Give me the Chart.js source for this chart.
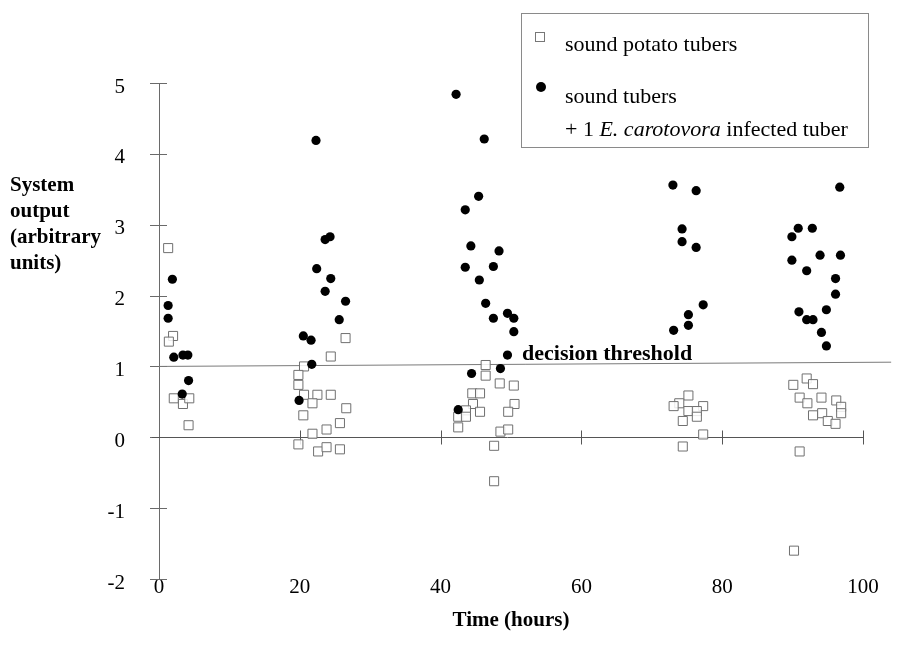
<!DOCTYPE html>
<html>
<head>
<meta charset="utf-8">
<script src="https://cdn.jsdelivr.net/npm/chart.js@4.4.0/dist/chart.umd.min.js"></script>
<style>
  html, body { margin: 0; padding: 0; background: #fff; }
  #wrap { position: relative; width: 905px; height: 657px; overflow: hidden; font-family: "Liberation Serif", "Times New Roman", serif; color: #000; }
  #chart { position: absolute; left: 0; top: 0; }
  .txt { position: absolute; white-space: nowrap; line-height: 26px; }
  #ytitle { left: 10px; top: 171px; font-weight: bold; font-size: 21px; line-height: 26px; }
  #legend { position: absolute; left: 521px; top: 13px; width: 346px; height: 133px; border: 1px solid #8a8a8a; }
  .lsq { position: absolute; width: 8px; height: 8px; border: 1px solid #777; background: #fff; }
  .ldot { position: absolute; width: 10px; height: 10px; border-radius: 50%; background: #000; }
  .ltxt { position: absolute; font-size: 22px; line-height: 26px; white-space: nowrap; }
  #thr { left: 522px; top: 340px; font-weight: bold; font-size: 22px; }
</style>
</head>
<body>
<div id="wrap">
  <canvas id="chart" width="905" height="657"></canvas>
  <div id="ytitle" class="txt">System<br>output<br>(arbitrary<br>units)</div>
  <div id="thr" class="txt">decision threshold</div>
  <div id="legend">
    <div class="lsq" style="left:13px; top:18px;"></div>
    <div class="ltxt" style="left:43px; top:17px;">sound potato tubers</div>
    <div class="ldot" style="left:14px; top:68px;"></div>
    <div class="ltxt" style="left:43px; top:69px;">sound tubers</div>
    <div class="ltxt" style="left:43px; top:102px;">+ 1 <i>E. carotovora</i> infected tuber</div>
  </div>
</div>
<script>
// ---- data ----
const xTicks = [0, 20, 40, 60, 80, 100];
const yTicks = [-2, -1, 0, 1, 2, 3, 4, 5];

const soundTime = [
  1.3, 2.0, 1.4, 2.1, 3.4, 4.3, 4.2,
  26.5, 24.4, 20.6, 19.8, 19.8, 20.6, 22.5, 24.4, 21.8, 26.6, 20.5, 25.7, 23.8, 21.8, 19.8, 22.6, 23.8, 25.7,
  46.4, 46.4, 48.4, 50.4, 44.5, 45.6, 44.6, 43.6, 45.6, 50.5, 49.6, 42.5, 43.6, 42.5, 48.5, 49.6, 47.6, 47.6,
  75.2, 73.9, 73.1, 77.3, 75.2, 76.4, 76.4, 74.4, 77.3, 74.4,
  92.0, 92.9, 90.1, 91.0, 94.1, 92.1, 96.2, 96.9, 96.9, 92.9, 94.2, 95.0, 96.1, 91.0, 90.2
];
const soundOutput = [
  2.67, 1.43, 1.35, 0.55, 0.47, 0.55, 0.17,
  1.40, 1.14, 1.00, 0.88, 0.74, 0.60, 0.60, 0.60, 0.48, 0.41, 0.31, 0.20, 0.11, 0.05, -0.10, -0.20, -0.14, -0.17,
  1.02, 0.87, 0.76, 0.73, 0.62, 0.62, 0.47, 0.38, 0.36, 0.47, 0.36, 0.29, 0.29, 0.14, 0.08, 0.11, -0.12, -0.62,
  0.59, 0.48, 0.44, 0.44, 0.37, 0.37, 0.29, 0.23, 0.04, -0.13,
  0.83, 0.75, 0.74, 0.56, 0.56, 0.48, 0.52, 0.43, 0.34, 0.31, 0.34, 0.23, 0.19, -0.20, -1.60
];

const infectedTime = [
  1.9, 1.3, 1.3, 2.1, 3.4, 4.1, 4.2, 3.3,
  22.3, 23.6, 24.3, 22.4, 24.4, 23.6, 26.5, 25.6, 20.5, 21.6, 21.7, 19.9,
  42.2, 46.2, 45.4, 43.5, 44.3, 48.3, 43.5, 47.5, 45.5, 46.4, 47.5, 49.5, 50.4, 50.4, 49.5, 48.5, 44.4, 42.5,
  73.0, 76.3, 74.3, 74.3, 76.3, 77.3, 75.2, 75.2, 73.1,
  96.7, 90.8, 92.8, 89.9, 89.9, 93.9, 96.8, 92.0, 96.1, 96.1, 90.9, 94.8, 92.0, 92.9, 94.1, 94.8
];
const infectedOutput = [
  2.23, 1.86, 1.68, 1.13, 1.16, 1.16, 0.80, 0.61,
  4.19, 2.79, 2.83, 2.38, 2.24, 2.06, 1.92, 1.66, 1.43, 1.37, 1.03, 0.52,
  4.84, 4.21, 3.40, 3.21, 2.70, 2.63, 2.40, 2.41, 2.22, 1.89, 1.68, 1.75, 1.68, 1.49, 1.16, 0.97, 0.90, 0.39,
  3.56, 3.48, 2.94, 2.76, 2.68, 1.87, 1.73, 1.58, 1.51,
  3.53, 2.95, 2.95, 2.83, 2.50, 2.57, 2.57, 2.35, 2.24, 2.02, 1.77, 1.80, 1.66, 1.66, 1.48, 1.29
];

const thresholdTime = [0, 104];
const thresholdLevel = [1.0, 1.06];

// ---- build chart ----
const toPts = (xs, ys) => xs.map((x, i) => ({ x: x, y: ys[i] }));
const SERIF = '"Liberation Serif", "Times New Roman", serif';

const axesPlugin = {
  id: 'axesPlugin',
  beforeDatasetsDraw(chart) {
    const ctx = chart.ctx;
    const xs = chart.scales.x, ys = chart.scales.y;
    const x0 = xs.getPixelForValue(0);
    const y0 = ys.getPixelForValue(0);
    ctx.save();
    ctx.strokeStyle = '#6a6a6a';
    ctx.lineWidth = 1;
    ctx.beginPath();
    ctx.moveTo(x0 + 0.5, ys.getPixelForValue(5));
    ctx.lineTo(x0 + 0.5, ys.getPixelForValue(-2));
    ctx.stroke();
    yTicks.forEach(v => {
      const py = Math.round(ys.getPixelForValue(v)) + 0.5;
      ctx.beginPath();
      ctx.moveTo(x0 - 9, py);
      ctx.lineTo(x0 + 8, py);
      ctx.stroke();
    });
    ctx.strokeStyle = '#555';
    const pz = Math.round(y0) + 0.5;
    ctx.beginPath();
    ctx.moveTo(x0 - 7, pz);
    ctx.lineTo(xs.getPixelForValue(100), pz);
    ctx.stroke();
    xTicks.forEach(v => {
      if (v === 0) return;
      const px = Math.round(xs.getPixelForValue(v)) + 0.5;
      ctx.beginPath();
      ctx.moveTo(px, pz - 7);
      ctx.lineTo(px, pz + 7);
      ctx.stroke();
    });
    ctx.restore();
  }
};

new Chart(document.getElementById('chart'), {
  type: 'scatter',
  data: {
    datasets: [
      {
        label: 'decision threshold',
        type: 'line',
        data: toPts(thresholdTime, thresholdLevel),
        borderColor: '#7a7a7a',
        borderWidth: 1,
        pointRadius: 0,
        fill: false,
        clip: false,
        order: 3
      },
      {
        label: 'sound potato tubers',
        data: toPts(soundTime, soundOutput),
        pointStyle: 'rect',
        pointRadius: 6.4,
        backgroundColor: 'rgba(255,255,255,0.85)',
        borderColor: '#707070',
        borderWidth: 1,
        order: 2
      },
      {
        label: 'sound tubers + 1 E. carotovora infected tuber',
        data: toPts(infectedTime, infectedOutput),
        pointStyle: 'circle',
        pointRadius: 4.6,
        backgroundColor: '#000',
        borderColor: '#000',
        borderWidth: 0,
        order: 1
      }
    ]
  },
  options: {
    responsive: false,
    animation: false,
    events: [],
    layout: { padding: { left: 0, right: 42, top: 83, bottom: 0 } },
    plugins: { legend: { display: false }, tooltip: { enabled: false } },
    scales: {
      x: {
        type: 'linear',
        min: 0,
        max: 100,
        afterBuildTicks: s => { s.ticks = xTicks.map(v => ({ value: v })); },
        afterFit: s => { s.height = 78; },
        grid: { display: false, drawTicks: false },
        border: { display: false },
        ticks: {
          color: '#000',
          padding: -4,
          maxRotation: 0,
          font: { family: SERIF, size: 21 }
        },
        title: {
          display: true,
          text: 'Time (hours)',
          color: '#000',
          font: { family: SERIF, size: 21, weight: 'bold' },
          padding: { top: 0, bottom: 24 }
        }
      },
      y: {
        type: 'linear',
        min: -2,
        max: 5,
        afterBuildTicks: s => { s.ticks = yTicks.map(v => ({ value: v })); },
        afterFit: s => { s.width = 159; },
        grid: { display: false, drawTicks: false },
        border: { display: false },
        ticks: {
          color: '#000',
          padding: 34,
          labelOffset: 4,
          font: { family: SERIF, size: 21 }
        }
      }
    }
  },
  plugins: [axesPlugin]
});
</script>
</body>
</html>
